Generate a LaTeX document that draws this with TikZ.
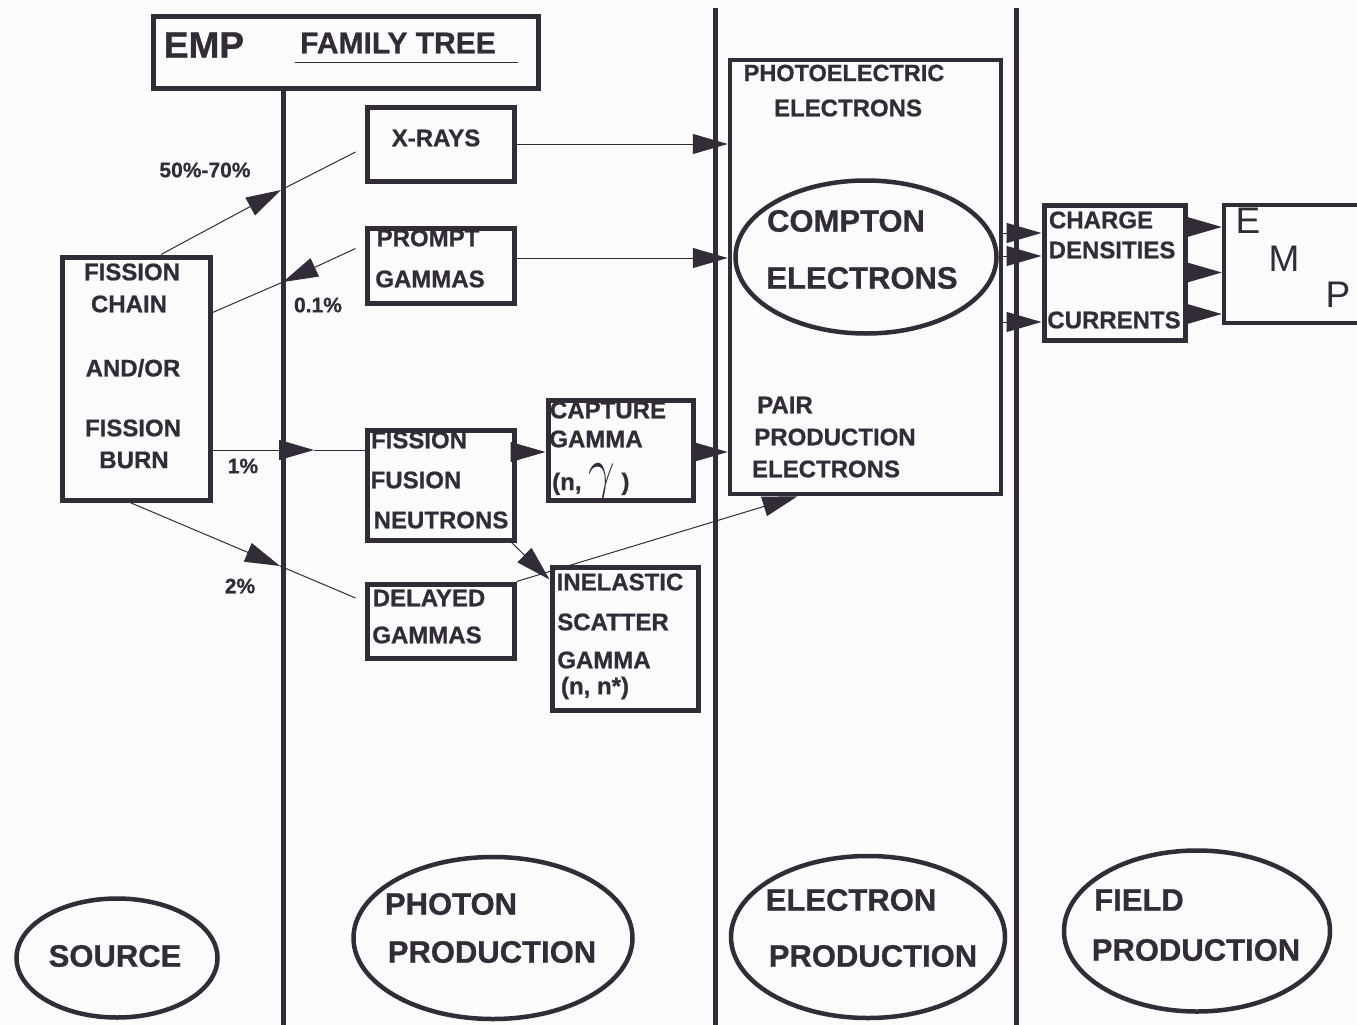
\documentclass[tikz,border=0pt]{standalone}
\usepackage{fontspec}
\setmainfont{Liberation Sans}[BoldFeatures={FakeBold=0.8}]
\usepackage{graphicx}
\usetikzlibrary{shapes.geometric,arrows.meta}
\definecolor{ink}{RGB}{50,44,56}
\definecolor{paper}{RGB}{251,251,251}
\tikzset{
 box/.style={draw=ink, line width=5pt, inner sep=0pt, rectangle},
 oval/.style={draw=ink, line width=4.5pt, ellipse, inner sep=0pt},
 txt/.style={text=ink, inner sep=0pt, font=\bfseries\fontsize{24}{24}\selectfont},
 pct/.style={text=ink, inner sep=0pt, font=\bfseries\fontsize{21}{21}\selectfont},
 big/.style={text=ink, inner sep=0pt, font=\bfseries\fontsize{31}{31}\selectfont},
 emptxt/.style={text=ink, inner sep=0pt, font=\fontsize{37}{37}\selectfont},
 conn/.style={draw=ink, line width=1pt},
 arr/.style={conn, -{Triangle[length=35pt,width=20pt]}},
 divider/.style={draw=ink, line width=5pt},
}
\begin{document}
\begin{tikzpicture}[x=1pt,y=-1pt]
\fill[paper] (0,0) rectangle (1357,1025);
\useasboundingbox (0,0) rectangle (1357,1025);

% column dividers
\draw[divider] (283,88) -- (283,1030);
\draw[divider] (715,8) -- (715,1030);
\draw[divider] (1016,8) -- (1016,1030);

% title
\node[box, fill=paper, minimum width=385pt, minimum height=71pt] (tbox) at (345.5,52.5) {};
\node[txt, font=\bfseries\fontsize{37}{37}\selectfont] (temp) at (204,45) {EMP};
\node[txt, font=\bfseries\fontsize{30}{30}\selectfont] (tft) at (398,43) {FAMILY TREE};
\draw[ink, line width=1.2pt] ([xshift=-5pt,yshift=-9pt]tft.south west) -- ([xshift=22pt,yshift=-9pt]tft.south east);

% boxes
\node[box, minimum width=148pt, minimum height=243pt] (fc) at (136,378.5) {};
\node[box, minimum width=147pt, minimum height=74pt] (xr) at (440.5,144) {};
\node[box, minimum width=147pt, minimum height=75pt] (pg) at (440.5,265.5) {};
\node[box, minimum width=147pt, minimum height=110pt] (fn) at (440.5,485) {};
\node[box, minimum width=145pt, minimum height=100pt] (cg) at (620.5,450) {};
\node[box, minimum width=147pt, minimum height=74pt] (dg) at (440.5,621) {};
\node[box, minimum width=146pt, minimum height=143pt] (ie) at (625,638.5) {};
\node[box, line width=4.5pt, minimum width=271pt, minimum height=434pt] (el) at (865.5,277) {};
\node[oval, line width=4.5pt, minimum width=261pt, minimum height=153pt] (comp) at (866,257) {};
\node[box, minimum width=141pt, minimum height=135pt] (cd) at (1114.5,272.5) {};
\node[box, line width=4.5pt, minimum width=144pt, minimum height=118pt] (emp) at (1296,264) {};

% bottom ellipses
\node[oval, minimum width=201pt, minimum height=119pt] (src) at (117,958) {};
\node[oval, minimum width=279pt, minimum height=162pt] (pp) at (493,938) {};
\node[oval, minimum width=274pt, minimum height=162pt] (ep) at (868,937) {};
\node[oval, minimum width=266pt, minimum height=161pt] (fp) at (1197,931) {};

% texts
\node[txt] (t1) at (132,272) {FISSION};
\node[txt] (t2) at (129,304) {CHAIN};
\node[txt] (t3) at (133,368) {AND/OR};
\node[txt] (t4) at (133,428) {FISSION};
\node[txt] (t5) at (134,460) {BURN};
\node[txt] (t6) at (436,138) {X-RAYS};
\node[txt] (t7) at (428,238) {PROMPT};
\node[txt] (t8) at (430,279) {GAMMAS};
\node[txt] (t9) at (419,440) {FISSION};
\node[txt] (t10) at (416,480) {FUSION};
\node[txt] (t11) at (441,520) {NEUTRONS};
\node[txt] (t12) at (608,410) {CAPTURE};
\node[txt] (t13) at (596,439) {GAMMA};
\node[txt, anchor=base west] (t14) at (552,490) {(n, \raisebox{2pt}{\scalebox{1.9}[2.3]{$\gamma$}} )};
\node[txt] (t15) at (429,598) {DELAYED};
\node[txt] (t16) at (427,635) {GAMMAS};
\node[txt] (t17) at (620,582) {INELASTIC};
\node[txt] (t18) at (613,622) {SCATTER};
\node[txt] (t19) at (604,660) {GAMMA};
\node[txt] (t20) at (595,688) {(n, n*)};
\node[txt, font=\bfseries\fontsize{23.5}{23.5}\selectfont] (t21) at (844,73) {PHOTOELECTRIC};
\node[txt] (t22) at (848,108) {ELECTRONS};
\node[txt] (t23) at (785,405) {PAIR};
\node[txt] (t24) at (835,437) {PRODUCTION};
\node[txt] (t25) at (826,469) {ELECTRONS};
\node[big] (t26) at (846,221) {COMPTON};
\node[big] (t27) at (862,278) {ELECTRONS};
\node[txt] (t28) at (1101,220) {CHARGE};
\node[txt] (t29) at (1112,250) {DENSITIES};
\node[txt] (t30) at (1114,320) {CURRENTS};
\node[emptxt] (t31) at (1248,221) {E};
\node[emptxt] (t32) at (1284,259) {M};
\node[emptxt] (t33) at (1338,295) {P};
\node[big] (t34) at (115,956) {SOURCE};
\node[big] (t35) at (451,904) {PHOTON};
\node[big] (t36) at (492,952) {PRODUCTION};
\node[big] (t37) at (851,900) {ELECTRON};
\node[big] (t38) at (873,956) {PRODUCTION};
\node[big] (t39) at (1139,900) {FIELD};
\node[big] (t40) at (1196,950) {PRODUCTION};

% percentages
\node[pct] (p1) at (205,170) {50\%-70\%};
\node[pct] (p2) at (318,305) {0.1\%};
\node[pct] (p3) at (243,466) {1\%};
\node[pct] (p4) at (240,586) {2\%};

% connectors from the source
\coordinate (a1) at (281,190);
\coordinate (a2) at (283,282);
\coordinate (a3) at (314,450);
\coordinate (a4) at (280,566);
\draw[arr] ([xshift=25pt]fc.north) -- (a1);
\draw[conn] (a1) -- ([xshift=-9pt,yshift=-8pt]xr.west);
\draw[conn] ([yshift=66pt]fc.east) -- (a2);
\draw[arr] ([xshift=-9pt,yshift=17pt]pg.west) -- (a2);
\draw[arr] ([yshift=-71.5pt]fc.east) -- (a3);
\draw[conn] (a3) -- ([yshift=35pt]fn.west);
\draw[arr] ([xshift=-6pt]fc.south) -- (a4);
\draw[conn] (a4) -- ([xshift=-9pt,yshift=23pt]dg.west);

% photon -> electron
\draw[arr] ([yshift=33pt]fn.east) -- ([yshift=-2pt]cg.west);
\draw[arr] ([yshift=-2pt]cg.east) -- ([yshift=-2pt]cg.east -| el.west);
\draw[arr] ([xshift=-5pt]fn.south east) -- ([yshift=-15pt]ie.north west);
\draw[arr] (dg.north east) -- ([xshift=-68pt]el.south);
\draw[arr] (xr.east) -- (xr.east -| el.west);
\draw[arr] ([yshift=7.5pt]pg.east) -- ([yshift=7.5pt]pg.east -| el.west);

% electron -> field
\draw[arr] ([yshift=39.5pt]cd.west -| el.east) -- ([yshift=39.5pt]cd.west);
\draw[arr] ([yshift=16.5pt]cd.west -| el.east) -- ([yshift=16.5pt]cd.west);
\draw[arr] ([yshift=-49.5pt]cd.west -| el.east) -- ([yshift=-49.5pt]cd.west);
\draw[arr] ([yshift=45.5pt]cd.east) -- ([yshift=45.5pt]cd.east -| emp.west);
\draw[arr] ([yshift=0pt]cd.east) -- ([yshift=0pt]cd.east -| emp.west);
\draw[arr] ([yshift=-41.5pt]cd.east) -- ([yshift=-41.5pt]cd.east -| emp.west);
\end{tikzpicture}
\end{document}
